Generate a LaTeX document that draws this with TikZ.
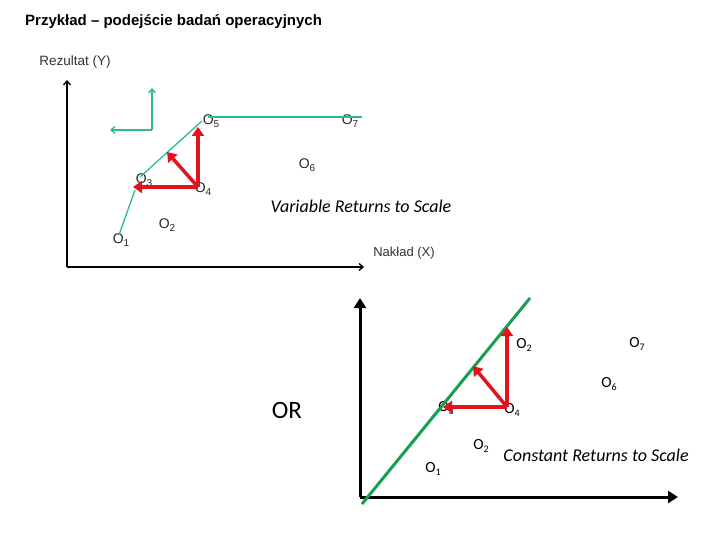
\documentclass[tikz,border=0pt]{standalone}
\usepackage{fontspec}
\setmainfont{Liberation Sans}
\newfontfamily\calfont{Carlito}
\usetikzlibrary{arrows.meta}

\definecolor{vrsgreen}{RGB}{45,185,150}
\definecolor{crsgreen}{RGB}{20,160,80}
\definecolor{moved}{RGB}{225,20,30}
\newcommand{\olab}[1]{O\raisebox{-0.45ex}{\fontsize{10}{10}\selectfont #1}}

\begin{document}
\begin{tikzpicture}[x=1pt,y=-1pt,
  olabel/.style={font=\fontsize{14}{14}\selectfont, text=black!85, inner sep=0pt},
  clabel/.style={font=\calfont\fontsize{15.5}{16}\selectfont, inner sep=0pt},
  move/.style={moved, line width=3.5pt, -{Triangle[length=9pt,width=12pt]}},
  barb/.style={-{Straight Barb[length=4pt,width=7pt]}},
  ]
\useasboundingbox (0,0) rectangle (720,540);

% Title
\node[anchor=west, inner sep=0pt, font=\bfseries\fontsize{15}{15}\selectfont] (title) at (25,22) {Przykład – podejście badań operacyjnych};

% Top panel: axes
\coordinate (vorig) at (67,267);
\coordinate (vytop) at (67,80);
\coordinate (vxend) at (364,267);
\draw[line width=1.3pt, barb] (vorig) -- (vytop);
\draw[line width=1.3pt, barb] (vorig) -- (vxend);
\node[inner sep=0pt, text=black!80, font=\fontsize{13.5}{13.5}\selectfont] (ylab) at (75,62) {Rezultat (Y)};
\node[inner sep=0pt, text=black!80, font=\fontsize{13}{13}\selectfont] (xlab) at (404,253) {Nakład (X)};

% Units
\node[olabel] (v1) at (121,240) {\olab{1}};
\node[olabel] (v2) at (167,225) {\olab{2}};
\node[olabel] (v3) at (144,180) {\olab{3}};
\node[olabel] (v4) at (203,189) {\olab{4}};
\node[olabel] (v5) at (211,121) {\olab{5}};
\node[olabel] (v6) at (307,165) {\olab{6}};
\node[olabel] (v7) at (350,121) {\olab{7}};

% VRS frontier
\coordinate (f1) at (119,235);
\coordinate (f2) at (135,190);
\coordinate (f3) at (140,177);
\coordinate (f4) at (202,121);
\coordinate (f5) at (208,117);
\coordinate (f6) at (362,117);
\draw[vrsgreen, line width=1.3pt] (f1) -- (f2);
\draw[vrsgreen, line width=1.3pt] (f3) -- (f4);
\draw[vrsgreen, line width=1.3pt] (f5) -- (f6);

% Small directions
\coordinate (dcorner) at (152,130);
\coordinate (dup) at (152,88);
\coordinate (dleft) at (110,130);
\draw[vrsgreen, line width=1.3pt, barb] (dcorner) -- (dup);
\draw[vrsgreen, line width=1.3pt, barb] (dcorner) -- (dleft);

% Projections of O4
\coordinate (vs) at (198,187);
\coordinate (vup) at (198,127);
\coordinate (vdiag) at (167,152);
\coordinate (vleft) at (133,187);
\foreach \t in {vup,vdiag,vleft}{
  \draw[move] (vs) -- (\t);
}

\node[clabel, font=\calfont\itshape\fontsize{18}{18}\selectfont] (vrs) at (361,206) {Variable Returns to Scale};

% OR
\node[inner sep=0pt, font=\calfont\fontsize{25}{25}\selectfont] (or) at (287,410) {OR};

% Bottom panel: axes
\coordinate (corig) at (360,497);
\coordinate (cytop) at (360,298);
\coordinate (cxend) at (678,497);
\draw[line width=3pt, -{Triangle[length=10pt,width=12pt]}] (corig) -- (cytop);
\draw[line width=3pt, -{Triangle[length=10pt,width=12pt]}] (corig) -- (cxend);

% Units
\node[clabel] (c1) at (433,469) {\olab{1}};
\node[clabel] (c2) at (481,446) {\olab{2}};
\node[clabel] (c3) at (446,408) {\olab{3}};
\node[clabel] (c4) at (512,410) {\olab{4}};
\node[clabel] (c2b) at (524,345) {\olab{2}};
\node[clabel] (c6) at (609,384) {\olab{6}};
\node[clabel] (c7) at (637,344) {\olab{7}};

% CRS frontier
\coordinate (g1) at (362,504);
\coordinate (g2) at (530,298);
\draw[crsgreen, line width=3pt] (g1) -- (g2);

% Projections of O4
\coordinate (cs) at (507,407);
\coordinate (cup) at (507,327);
\coordinate (cdiag) at (473,366);
\coordinate (cleft) at (443,407);
\foreach \t in {cup,cdiag,cleft}{
  \draw[move] (cs) -- (\t);
}

\node[clabel, font=\calfont\itshape\fontsize{18}{18}\selectfont] (crs) at (596,455) {Constant Returns to Scale};

\end{tikzpicture}
\end{document}
